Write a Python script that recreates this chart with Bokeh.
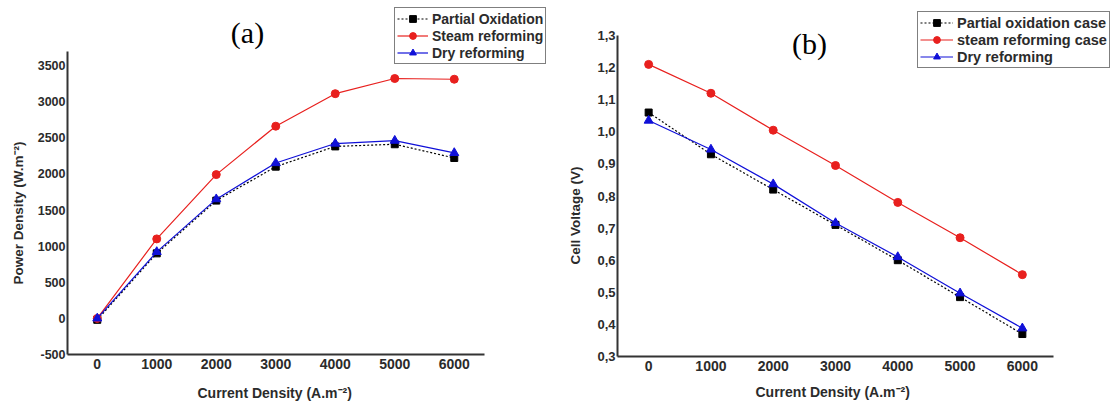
from bokeh.plotting import figure
from bokeh.layouts import row
from bokeh.models import Range1d, FixedTicker, Legend, LegendItem, Label, Title
from bokeh.embed import file_html
from bokeh.resources import INLINE

# ---- data ----
current = [0, 1000, 2000, 3000, 4000, 5000, 6000]
power_partial = [-20, 900, 1630, 2100, 2380, 2410, 2220]
power_steam = [0, 1100, 1990, 2660, 3110, 3320, 3310]
power_dry = [0, 920, 1650, 2150, 2420, 2460, 2290]
volt_partial = [1.06, 0.93, 0.82, 0.71, 0.60, 0.485, 0.37]
volt_steam = [1.21, 1.12, 1.005, 0.895, 0.78, 0.67, 0.555]
volt_dry = [1.035, 0.945, 0.837, 0.716, 0.61, 0.497, 0.388]
x_ticks = [0, 1000, 2000, 3000, 4000, 5000, 6000]
power_ticks = [-500, 0, 500, 1000, 1500, 2000, 2500, 3000, 3500]
power_tick_labels = ["-500", "0", "500", "1000", "1500", "2000", "2500", "3000", "3500"]
volt_ticks = [0.3, 0.4, 0.5, 0.6, 0.7, 0.8, 0.9, 1.0, 1.1, 1.2, 1.3]
volt_tick_labels = ["0,3", "0,4", "0,5", "0,6", "0,7", "0,8", "0,9", "1,0", "1,1", "1,2", "1,3"]
labels_a = ["Partial Oxidation", "Steam reforming", "Dry reforming"]
labels_b = ["Partial oxidation case", "steam reforming case", "Dry reforming"]
xtitle = "Current Density (A.m\u207b\u00b2)"
ytitle_a = "Power Density (W.m\u207b\u00b2)"
ytitle_b = "Cell Voltage (V)"

FONT = "Liberation Sans"
TXT = "#2b2b2b"


def style(p, xb, yb, ylab_size, spacer):
    p.grid.visible = False
    p.outline_line_color = None
    for ax in (p.xaxis[0], p.yaxis[0]):
        ax.axis_line_color = "#333333"
        ax.axis_line_width = 2
        ax.major_tick_line_color = None
        ax.minor_tick_line_color = None
        ax.major_tick_out = 0
        ax.major_tick_in = 0
        ax.minor_tick_out = 0
        ax.minor_tick_in = 0
        ax.major_label_text_font = FONT
        ax.major_label_text_font_style = "bold"
        ax.major_label_text_color = TXT
    p.xaxis[0].major_label_text_font_size = "14px"
    p.yaxis[0].major_label_text_font_size = ylab_size
    p.xaxis[0].bounds = xb
    p.yaxis[0].bounds = yb
    p.xaxis[0].major_label_standoff = 4
    p.yaxis[0].major_label_standoff = 2
    # spacer so that the title below sits a little lower
    p.xaxis[0].axis_label = " "
    p.xaxis[0].axis_label_text_font_size = "1px"
    p.xaxis[0].axis_label_standoff = spacer
    p.xaxis[0].ticker = FixedTicker(ticks=x_ticks)


def add_titles(p, xoff, yoff, ytext, ystand):
    p.add_layout(Title(text=xtitle, align="left", offset=xoff, standoff=0,
                       text_font=FONT, text_font_style="bold", text_font_size="14px",
                       text_color=TXT, vertical_align="middle"), "below")
    p.add_layout(Title(text=ytext, align="left", offset=yoff, standoff=ystand,
                       text_font=FONT, text_font_style="bold", text_font_size="13.5px",
                       text_color=TXT, vertical_align="middle"), "left")


def add_series(p, ys_list, labels, loc, glyph_w, fsize, row_h):
    items = []
    colors = ["black", "#e8201e", "#1010d8"]
    markers = ["square", "circle", "triangle"]
    sizes = [7, 8, 9]
    for ys, lab, c, m, s in zip(ys_list, labels, colors, markers, sizes):
        if m == "square":
            ln = p.line(current, ys, line_color=c, line_width=1.2, line_dash="2 2")
        else:
            ln = p.line(current, ys, line_color=c, line_width=1.2)
        sc = p.scatter(current, ys, marker=m, size=s, fill_color=c, line_color=c)
        items.append(LegendItem(label=lab, renderers=[ln, sc]))
    leg = Legend(items=items, location=loc)
    leg.border_line_color = "black"
    leg.border_line_width = 1.5
    leg.background_fill_alpha = 1
    leg.label_text_font = FONT
    leg.label_text_font_style = "bold"
    leg.label_text_font_size = fsize
    leg.label_text_color = TXT
    leg.glyph_width = glyph_w
    leg.glyph_height = row_h
    leg.label_height = row_h
    leg.label_standoff = 4
    leg.spacing = 0
    leg.padding = 2
    leg.margin = 0
    p.add_layout(leg, "center")


# ---- panel (a) ----  axis area in page px: x 67..483.5 (-500..6500), y 354..50 (-500..3700)
a_width = 554
a_left, a_fw, a_fh = 67, a_width - 67, 354
a_xpx = 416.5 / 7000
a_ypx = (354 - 65) / 4000
pa = figure(frame_width=a_fw, frame_height=a_fh, min_border_left=a_left, min_border_right=0,
            min_border_top=0, min_border_bottom=401 - a_fh, toolbar_location=None,
            output_backend="svg",
            x_range=Range1d(-500, -500 + a_fw / a_xpx), y_range=Range1d(-500, -500 + a_fh / a_ypx))
style(pa, (-500, 6500), (-500, 3700), "12.5px", 8)
pa.yaxis[0].ticker = FixedTicker(ticks=power_ticks)
pa.yaxis[0].major_label_overrides = {t: l for t, l in zip(power_ticks, power_tick_labels)}
add_titles(pa, 130, 70, ytitle_a, 16)
add_series(pa, [power_partial, power_steam, power_dry], labels_a, (327, 290), 31, "14px", 17)
pa.add_layout(Label(x=180, y=322, x_units="screen", y_units="screen", text="(a)",
                    text_font="Liberation Serif", text_font_size="30px",
                    text_align="center", text_baseline="middle", text_color="black"))

# ---- panel (b) ----  axis area in page px: x 617..1053 (-500..6500), y 356..35 (0.3..1.3)
b_left = 617 - a_width
b_fw, b_fh = 1113 - 617, 356
b_xpx = 436 / 7000
b_ypx = 321 / 1.0
pb = figure(frame_width=b_fw, frame_height=b_fh, min_border_left=b_left, min_border_right=0,
            min_border_top=0, min_border_bottom=401 - b_fh, toolbar_location=None,
            output_backend="svg",
            x_range=Range1d(-500, -500 + b_fw / b_xpx), y_range=Range1d(0.3, 0.3 + b_fh / b_ypx))
style(pb, (-500, 6500), (0.3, 1.3), "13px", 5)
pb.yaxis[0].ticker = FixedTicker(ticks=volt_ticks)
pb.yaxis[0].major_label_overrides = {t: l for t, l in zip(volt_ticks, volt_tick_labels)}
add_titles(pb, 138, 92, ytitle_b, 22)
add_series(pb, [volt_partial, volt_steam, volt_dry], labels_b, (300, 288), 33, "14.5px", 17)
pb.add_layout(Label(x=192, y=313, x_units="screen", y_units="screen", text="(b)",
                    text_font="Liberation Serif", text_font_size="30px",
                    text_align="center", text_baseline="middle", text_color="black"))

layout = row(pa, pb)
open("out.html", "w").write(file_html(layout, INLINE))
